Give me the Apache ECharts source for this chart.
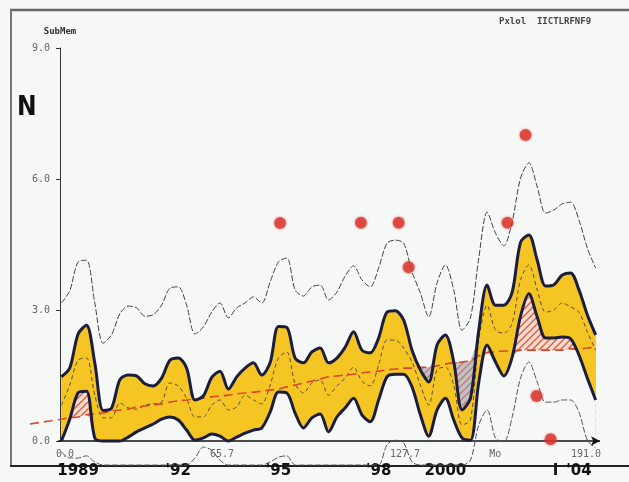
<!DOCTYPE html>
<html><head><meta charset="utf-8">
<script src="https://cdn.jsdelivr.net/npm/echarts@6/dist/echarts.min.js"></script>
<style>html,body{margin:0;padding:0;background:#f6f8f8}#c{width:629px;height:482px}</style>
</head><body><div id="c"></div>
<script>
const years = [1988.5,1988.75,1989,1989.25,1989.5,1989.75,1990,1990.25,1990.5,1990.75,
1991,1991.25,1991.5,1991.75,1992,1992.25,1992.5,1992.75,1993,1993.25,
1993.5,1993.75,1994,1994.25,1994.5,1994.75,1995,1995.25,1995.5,1995.75,
1996,1996.25,1996.5,1996.75,1997,1997.25,1997.5,1997.75,1998,1998.25,
1998.5,1998.75,1999,1999.25,1999.5,1999.75,2000,2000.25,2000.5,2000.75,
2001,2001.25,2001.5,2001.75,2002,2002.25,2002.5,2002.75,2003,2003.25,
2003.5,2003.75,2004,2004.25,2004.5];
const upperThin = [3.16,3.44,4.10,4.14,3.16,2.24,2.43,2.91,3.09,3.05,
2.86,2.89,3.11,3.50,3.53,3.11,2.45,2.61,2.95,3.16,
2.82,3.05,3.16,3.30,3.16,3.64,4.10,4.19,3.46,3.32,
3.53,3.57,3.23,3.41,3.78,4.01,3.69,3.53,3.96,4.53,
4.60,4.53,3.87,3.39,2.84,3.62,4.03,3.46,2.54,2.82,
4.19,5.24,4.76,4.47,5.02,6.02,6.37,5.82,5.22,5.29,
5.43,5.47,5.06,4.42,3.96];
const upperBand = [1.47,1.67,2.45,2.65,1.79,0.70,0.75,1.40,1.51,1.49,
1.31,1.26,1.44,1.85,1.90,1.67,0.94,1.03,1.45,1.60,
1.19,1.47,1.67,1.79,1.51,1.79,2.62,2.60,1.90,1.79,
2.04,2.13,1.79,1.90,2.15,2.50,2.08,2.02,2.36,2.95,
2.98,2.77,2.08,1.63,1.35,2.20,2.43,1.81,0.71,0.98,
2.54,3.57,3.11,3.11,3.41,4.55,4.72,4.14,3.55,3.58,
3.80,3.85,3.46,2.89,2.43];
const lowerBand = [0,0.50,1.10,1.14,0.07,0,0,0,0.09,0.21,
0.30,0.39,0.50,0.55,0.48,0.25,0.02,0.07,0.16,0.11,
0,0.09,0.18,0.25,0.30,0.66,1.12,1.10,0.64,0.30,
0.53,0.62,0.21,0.55,0.76,0.98,0.60,0.44,0.94,1.47,
1.53,1.53,1.24,0.60,0.11,0.71,0.98,0.48,0.07,0.02,
1.35,2.20,1.81,1.49,1.92,2.86,3.37,2.84,2.36,2.36,
2.38,2.34,1.97,1.44,0.94];
const middleLine = [0.82,1.28,1.85,1.90,1.05,0.53,0.53,0.87,0.76,0.73,
0.82,0.85,0.89,1.33,1.26,0.98,0.55,0.55,0.82,0.94,
0.71,0.78,1.05,0.94,0.85,1.28,1.90,2.04,1.31,1.10,
1.33,1.40,1.05,1.26,1.44,1.69,1.37,1.26,1.74,2.31,
2.31,2.13,1.81,1.28,0.82,1.63,1.69,1.28,0.37,0.48,
2.31,3.11,2.54,2.47,2.70,3.69,4.03,3.46,2.95,3.00,
3.16,3.07,2.95,2.50,2.08];
const lowerThin = [-0.25,-0.39,-0.39,-0.34,-0.48,-0.55,-0.55,-0.55,-0.55,-0.55,
-0.55,-0.55,-0.55,-0.55,-0.55,-0.55,-0.39,-0.14,-0.21,-0.44,
-0.55,-0.55,-0.55,-0.55,-0.55,-0.48,-0.37,-0.34,-0.55,-0.55,
-0.55,-0.55,-0.55,-0.55,-0.55,-0.55,-0.55,-0.55,-0.55,-0.09,
0.02,-0.05,-0.48,-0.55,-0.55,-0.55,-0.55,-0.55,-0.55,-0.44,
0.37,0.71,0.07,-0.02,0.55,1.44,1.81,1.35,0.89,0.89,
0.94,0.94,0.66,0.02,-0.16];
const trend = [0.50,0.53,0.55,0.60,0.62,0.64,0.69,0.71,0.73,0.78,
0.80,0.82,0.85,0.89,0.92,0.94,0.96,0.98,1.01,1.03,
1.05,1.08,1.10,1.12,1.14,1.17,1.19,1.24,1.28,1.33,
1.37,1.42,1.47,1.49,1.51,1.53,1.56,1.58,1.60,1.63,
1.65,1.67,1.67,1.69,1.69,1.72,1.76,1.79,1.81,1.85,
1.95,2.02,2.04,2.06,2.06,2.08,2.08,2.08,2.08,2.08,
2.08,2.11,2.11,2.13,2.15];
const trendStartYear = 1987.56;
const trendStartValue = 0.39;
const dotYears = [1995.05,1997.47,1998.60,1998.90,2001.86,2002.40,2002.73,2003.15];
const dotValues = [4.99,5.00,5.00,3.98,5.00,7.01,1.03,0.04];
const yearTicks = [1989,1992,1995,1998,2000,2003.3,2004];
const yearTickLabels = ['1989',"'92","'95","'98",'2000','I',"'04"];
const indexTicks = [1988.61,1993.31,1998.79,2001.49,2004.21];
const indexTickLabels = ['0.0','65.7','127.7','Mo','191.0'];
const yTitle = 'SubMem';
const axisStartYear = 1988.4;

const BG = '#f6f8f8';
const X_MIN = 1987.5, X_MAX = 2004.63;
const pair = arr => years.map((y,i)=>[y, arr[i]]);
const lookup = (vals, labels) => v => { for (let i=0;i<vals.length;i++) if (Math.abs(vals[i]-v)<1e-6) return labels[i]; return ''; };
function hatch(bg, fg){
  const s=7, c=document.createElement('canvas'); c.width=c.height=s;
  const g=c.getContext('2d'); g.fillStyle=bg; g.fillRect(0,0,s,s);
  g.strokeStyle=fg; g.lineWidth=1.3; g.beginPath();
  g.moveTo(0,s); g.lineTo(s,0); g.moveTo(-2,2); g.lineTo(2,-2); g.moveTo(s-2,s+2); g.lineTo(s+2,s-2);
  g.stroke(); return c;
}
const SM = 0.3;
const area = (name, data, color, z) => ({name, type:'line', data, smooth:SM, symbol:'none', z,
  lineStyle:{width:0, opacity:0}, areaStyle:{color, opacity:1}, silent:true});
const line = (name, data, color, width, type, z) => ({name, type:'line', data, smooth:SM, symbol:'none', z,
  clip:false, lineStyle:{color, width, type}, silent:true});

const blueTop = years.map((y,i)=>[y, Math.max(upperBand[i], trend[i])]);
const bgTop = years.map((y,i)=>[y, Math.min(lowerBand[i], trend[i])]);

const clearSeries = area('clear', bgTop, BG, 4);
clearSeries.markLine = {silent:true, symbol:['none','arrow'], symbolSize:[7,9],
  label:{show:false}, lineStyle:{color:'#111', width:1.5, type:'solid'},
  data:[[{coord:[axisStartYear,0]},{coord:[X_MAX,0]}]]};

const chart = echarts.init(document.getElementById('c'), null, {renderer:'canvas'});
chart.setOption({
  animation:false,
  backgroundColor: BG,
  title:[
    {text:'N', left:12, top:90, textStyle:{fontSize:26, fontWeight:'bold', fontFamily:'DejaVu Sans Condensed', color:'#111'}},
    {text:'Pxlol  IICTLRFNF9', left:494, top:12, textStyle:{fontSize:9, fontWeight:'bold', fontFamily:'DejaVu Sans Mono', color:'#444'}}
  ],
  graphic:[
    {type:'line', shape:{x1:10,y1:10,x2:629,y2:10}, style:{stroke:'#666', lineWidth:2.5}, silent:true},
    {type:'line', shape:{x1:11,y1:10,x2:11,y2:466}, style:{stroke:'#777', lineWidth:2}, silent:true},
    {type:'line', shape:{x1:10,y1:466,x2:629,y2:466}, style:{stroke:'#222', lineWidth:2}, silent:true}
  ],
  grid:{left:28, right:29, top:48, bottom:41},
  xAxis:[
    {type:'value', min:X_MIN, max:X_MAX, position:'bottom',
     axisLine:{show:false}, axisTick:{show:false}, splitLine:{show:false},
     axisLabel:{customValues:indexTicks, formatter:lookup(indexTicks,indexTickLabels), color:'#666', fontFamily:'DejaVu Sans Mono', fontSize:10, margin:8}},
    {type:'value', min:X_MIN, max:X_MAX, position:'bottom', offset:24,
     axisLine:{show:false}, axisTick:{show:false}, splitLine:{show:false},
     axisLabel:{customValues:yearTicks, formatter:lookup(yearTicks,yearTickLabels), color:'#111', fontWeight:'bold', fontFamily:'DejaVu Sans', fontSize:15, margin:-1}}
  ],
  yAxis:{type:'value', min:0, max:9, interval:3, offset:-32, name:yTitle, nameLocation:'end', nameGap:12,
    nameTextStyle:{color:'#333', fontSize:9, fontWeight:'bold', fontFamily:'DejaVu Sans Mono', align:'center'},
    axisLine:{show:true, lineStyle:{color:'#333', width:1}},
    axisTick:{show:true, length:4, lineStyle:{color:'#333'}},
    axisLabel:{formatter:v=>v.toFixed(1), color:'#666', fontFamily:'DejaVu Sans Mono', fontSize:10, margin:10},
    splitLine:{show:false}},
  series:[
    area('blueHatch', blueTop, {image:hatch('#b9c5cd','#d8735e'), repeat:'repeat'}, 1),
    area('band', pair(upperBand), '#f5c623', 2),
    area('redHatch', pair(lowerBand), {image:hatch('#f8dccf','#e0583c'), repeat:'repeat'}, 3),
    clearSeries,
    line('lowerThin', pair(lowerThin), '#555', 1, [6,2], 5),
    line('upperThin', pair(upperThin), '#444', 1, [6,2], 5),
    line('middle', pair(middleLine), '#5a4a30', 1, [4,3], 6),
    line('trend', [[trendStartYear, trendStartValue]].concat(pair(trend)), '#d9482a', 1.6, [9,5], 7),
    line('upperBand', pair(upperBand), '#1b1d3c', 3, 'solid', 8),
    line('lowerBand', pair(lowerBand), '#1b1d3c', 3, 'solid', 8),
    {name:'events', type:'scatter', data:dotYears.map((y,i)=>[y, dotValues[i]]), symbolSize:12, clip:false, z:10,
     itemStyle:{color:'#d9342b', shadowBlur:3, shadowColor:'rgba(217,52,43,0.6)'}}
  ]
});
</script></body></html>
